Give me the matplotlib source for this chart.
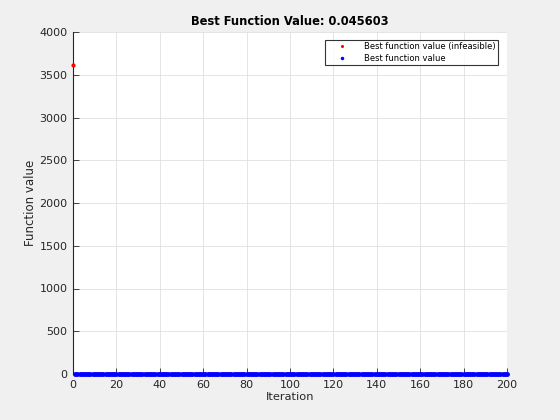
import matplotlib
matplotlib.use("Agg")
import matplotlib.pyplot as plt

infeasible_iter = [0]
infeasible_val = [3610.0]

best_val = [
    2.9, 2.7, 2.5, 2.4, 2.3, 2.2, 2.1, 2.0, 1.95, 1.9,
    1.85, 1.8, 1.75, 1.7, 1.65, 1.6, 1.55, 1.5, 1.45, 1.4,
    1.35, 1.3, 1.26, 1.22, 1.18, 1.14, 1.1, 1.06, 1.02, 0.98,
    0.95, 0.92, 0.89, 0.86, 0.83, 0.8, 0.78, 0.76, 0.74, 0.72,
    0.70, 0.68, 0.66, 0.64, 0.62, 0.60, 0.58, 0.56, 0.54, 0.52,
    0.51, 0.50, 0.49, 0.48, 0.47, 0.46, 0.45, 0.44, 0.43, 0.42,
    0.41, 0.40, 0.39, 0.38, 0.37, 0.36, 0.35, 0.34, 0.33, 0.32,
    0.31, 0.30, 0.295, 0.29, 0.285, 0.28, 0.275, 0.27, 0.265, 0.26,
    0.255, 0.25, 0.245, 0.24, 0.235, 0.23, 0.225, 0.22, 0.215, 0.21,
    0.205, 0.20, 0.195, 0.19, 0.185, 0.18, 0.175, 0.17, 0.165, 0.16,
    0.157, 0.154, 0.151, 0.148, 0.145, 0.142, 0.139, 0.136, 0.133, 0.13,
    0.127, 0.124, 0.121, 0.118, 0.115, 0.112, 0.11, 0.108, 0.106, 0.104,
    0.102, 0.10, 0.098, 0.096, 0.094, 0.092, 0.090, 0.088, 0.086, 0.084,
    0.082, 0.080, 0.078, 0.076, 0.074, 0.072, 0.070, 0.069, 0.068, 0.067,
    0.066, 0.065, 0.064, 0.063, 0.062, 0.061, 0.060, 0.059, 0.058, 0.057,
    0.056, 0.055, 0.054, 0.053, 0.052, 0.051, 0.050, 0.0495, 0.049, 0.0485,
    0.048, 0.0478, 0.0476, 0.0474, 0.0472, 0.047, 0.0468, 0.0466, 0.0464, 0.0462,
    0.046, 0.0459, 0.0458, 0.0457, 0.0457, 0.0456, 0.0456, 0.0456, 0.0456, 0.0456,
    0.0456, 0.0456, 0.0456, 0.0456, 0.0456, 0.0456, 0.0456, 0.0456, 0.0456, 0.0456,
    0.0456, 0.0456, 0.0456, 0.0456, 0.0456, 0.0456, 0.0456, 0.0456, 0.0456, 0.045603,
]
best_iter = list(range(1, len(best_val) + 1))

title = "Best Function Value: 0.045603"
xlabel = "Iteration"
ylabel = "Function value"
xticks = [0, 20, 40, 60, 80, 100, 120, 140, 160, 180, 200]
yticks = [0, 500, 1000, 1500, 2000, 2500, 3000, 3500, 4000]

plt.rcParams['font.family'] = ['DejaVu Sans']
fig = plt.figure(figsize=(5.6, 4.2), dpi=100, facecolor='#f0f0f0')
ax = fig.add_axes([73/560, 1 - 374/420, (507-73)/560, (374-32)/420])
ax.set_facecolor('white')

ax.plot(infeasible_iter, infeasible_val, linestyle='none', marker='.', color='red',
        markersize=4, label='Best function value (infeasible)', clip_on=False, zorder=5)
ax.plot(best_iter, best_val, linestyle='none', marker='.', color='blue',
        markersize=5, label='Best function value', clip_on=False, zorder=5)

ax.set_xlim(0, 200)
ax.set_ylim(0, 4000)
ax.set_xticks(xticks)
ax.set_yticks(yticks)
ax.tick_params(direction='in', length=4, labelsize=8, colors='#262626', width=0.6, pad=4)
for s in ['top', 'right']:
    ax.spines[s].set_visible(False)
for s in ['left', 'bottom']:
    ax.spines[s].set_color('#262626')
    ax.spines[s].set_linewidth(0.8)
ax.grid(True, color='#dfdfdf', linewidth=0.6)
ax.set_axisbelow(True)

ax.set_title(title, fontsize=8.3, fontweight='bold', color='black', pad=5)
ax.set_xlabel(xlabel, fontsize=8.2, color='#262626', labelpad=2)
ax.set_ylabel(ylabel, fontsize=8.5, color='#262626', labelpad=2)

leg = ax.legend(loc='upper right', fontsize=6, frameon=True, fancybox=False,
                edgecolor='black', borderpad=0.3, labelspacing=0.3, handlelength=3.6,
                markerscale=0.6, bbox_to_anchor=(0.979, 0.977), borderaxespad=0)
leg.get_frame().set_linewidth(0.8)

fig.savefig('out.png', dpi=100, facecolor=fig.get_facecolor())
